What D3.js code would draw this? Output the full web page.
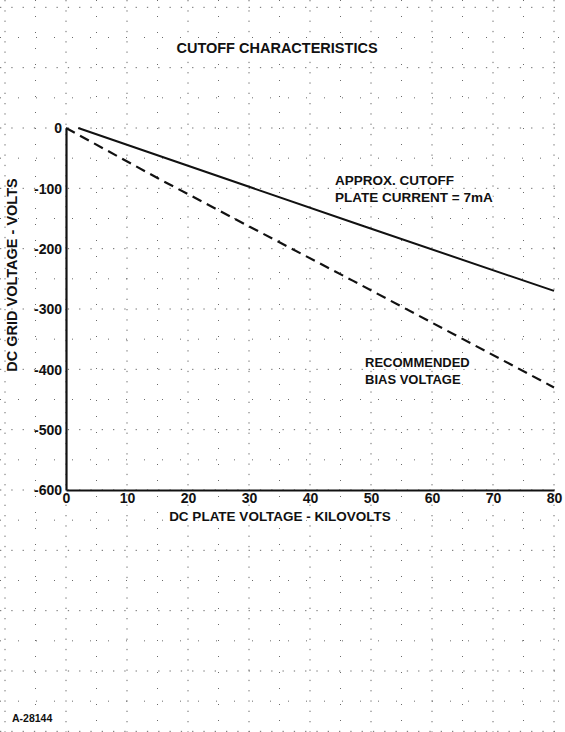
<!DOCTYPE html>
<html>
<head>
<meta charset="utf-8">
<script src="https://cdn.jsdelivr.net/npm/d3@7"></script>
<style>
  body { margin: 0; background: #fff; }
  svg text { font-family: "Liberation Sans", Arial, sans-serif; font-weight: bold; fill: #111; }
</style>
</head>
<body>
<svg></svg>
<script>
// cutoff curve (solid) and recommended bias (dashed), kV vs volts
let cutoffKv = [2, 48, 80];
let cutoffVolts = [0, -160, -270];
let biasKv = [0, 15, 30, 47, 80];
let biasVolts = [0, -83, -163, -253, -430];

let xTicks = [0, 10, 20, 30, 40, 50, 60, 70, 80];
let yTicks = [0, -100, -200, -300, -400, -500, -600];

let width = 565;
let height = 732;

let svg = d3.select("svg")
    .attr("width", width)
    .attr("height", height);

let xScale = d3.scaleLinear()
    .domain([0, 80])
    .range([66, 554]);

let yScale = d3.scaleLinear()
    .domain([0, -600])
    .range([128, 490]);

// graph paper dots, spread over the whole sheet
let gridX = d3.range(-10, 86, 5);
let gridY = d3.range(200, -1001, -50);

svg.append("g")
   .selectAll("line")
   .data(gridX)
   .enter()
   .append("line")
   .attr("x1", (d) => xScale(d))
   .attr("x2", (d) => xScale(d))
   .attr("y1", 0)
   .attr("y2", height)
   .attr("stroke", "#6a6a6a")
   .attr("stroke-width", 1)
   .attr("stroke-dasharray", (d, i) => i % 2 ? "1,15" : "1.3,9");

svg.append("g")
   .selectAll("line")
   .data(gridY)
   .enter()
   .append("line")
   .attr("x1", 0)
   .attr("x2", width)
   .attr("y1", (d) => yScale(d))
   .attr("y2", (d) => yScale(d))
   .attr("stroke", "#6a6a6a")
   .attr("stroke-width", 1)
   .attr("stroke-dasharray", (d, i) => i % 2 ? "1,17" : "1.3,10");

let labels = [
    {t: "CUTOFF CHARACTERISTICS", x: 277, y: 53, a: "middle", s: 14.5},
    {t: "DC PLATE VOLTAGE - KILOVOLTS", x: 280, y: 521, a: "middle", s: 13.5},
    {t: "APPROX. CUTOFF", x: 335, y: 185, a: "start", s: 13.5},
    {t: "PLATE CURRENT = 7mA", x: 335, y: 202, a: "start", s: 13.5},
    {t: "RECOMMENDED", x: 365, y: 367, a: "start", s: 13},
    {t: "BIAS VOLTAGE", x: 365, y: 384, a: "start", s: 13},
    {t: "A-28144", x: 12, y: 722, a: "start", s: 10.5}
];

// white backing behind the text so the dots don't run through it
svg.append("g")
   .selectAll("text")
   .data(labels)
   .enter()
   .append("text")
   .attr("x", (d) => d.x)
   .attr("y", (d) => d.y)
   .attr("text-anchor", (d) => d.a)
   .attr("font-size", (d) => d.s)
   .attr("stroke", "#fff")
   .attr("stroke-width", 4)
   .text((d) => d.t);

svg.append("g")
   .selectAll("text")
   .data(labels)
   .enter()
   .append("text")
   .attr("x", (d) => d.x)
   .attr("y", (d) => d.y)
   .attr("text-anchor", (d) => d.a)
   .attr("font-size", (d) => d.s)
   .text((d) => d.t);

// axes
let xAxis = d3.axisBottom(xScale)
    .tickValues(xTicks)
    .tickSize(0)
    .tickPadding(4);

let yAxis = d3.axisLeft(yScale)
    .tickValues(yTicks)
    .tickSize(0)
    .tickPadding(4)
    .tickFormat((d) => d === 0 ? "0" : "-" + Math.abs(d));

let gx = svg.append("g")
    .attr("id", "x-axis")
    .attr("transform", "translate(0," + yScale(-600) + ")")
    .call(xAxis);

let gy = svg.append("g")
    .attr("id", "y-axis")
    .attr("transform", "translate(" + xScale(0) + ",0)")
    .call(yAxis);

[gx, gy].forEach((g) => {
    g.select(".domain").attr("stroke", "#111").attr("stroke-width", 2.2);
    g.selectAll("text")
     .attr("font-size", 14)
     .attr("font-family", "Liberation Sans, Arial, sans-serif")
     .attr("font-weight", "bold")
     .attr("fill", "#111");
});

gx.selectAll(".tick text").attr("dy", "0.65em");
gy.selectAll(".tick text").attr("dy", "0.35em");

svg.append("text")
   .attr("transform", "translate(17,275) rotate(-90)")
   .attr("text-anchor", "middle")
   .attr("font-size", 14.5)
   .text("DC GRID VOLTAGE - VOLTS");

// curves
let line = d3.line()
    .x((d) => xScale(d[0]))
    .y((d) => yScale(d[1]));

svg.append("path")
   .datum(d3.zip(cutoffKv, cutoffVolts))
   .attr("d", line)
   .attr("fill", "none")
   .attr("stroke", "#111")
   .attr("stroke-width", 2);

svg.append("path")
   .datum(d3.zip(biasKv, biasVolts))
   .attr("d", line)
   .attr("fill", "none")
   .attr("stroke", "#111")
   .attr("stroke-width", 2.2)
   .attr("stroke-dasharray", "10,6");
</script>
</body>
</html>
